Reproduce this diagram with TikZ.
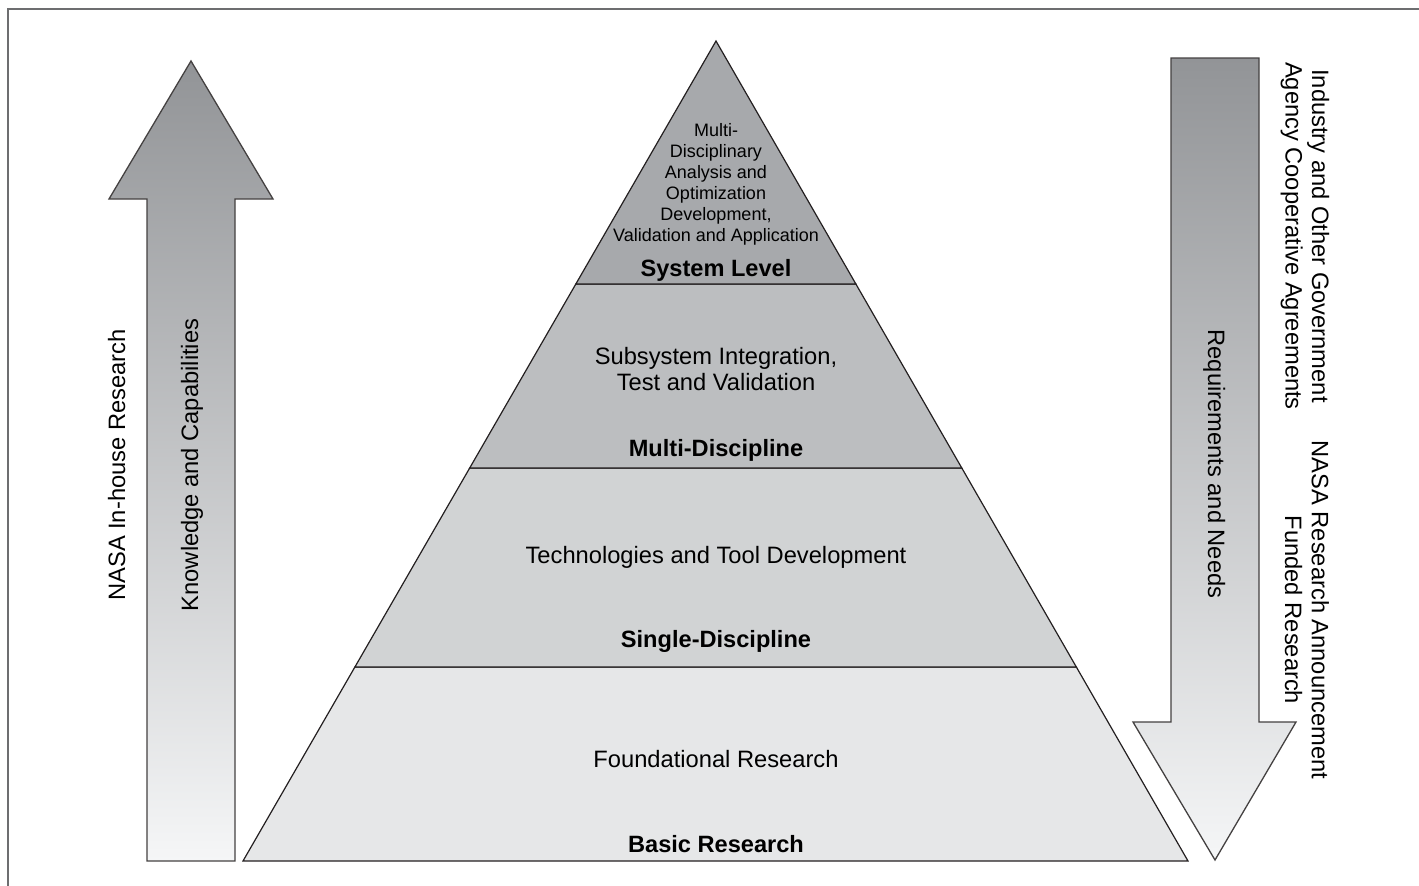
\documentclass[tikz,border=0pt]{standalone}
\usepackage{fontspec}
\setmainfont{Liberation Sans}
\usetikzlibrary{calc}
\definecolor{framegray}{HTML}{6D6E70}
\definecolor{arrdark}{HTML}{929497}
\definecolor{arrlight}{HTML}{F5F6F7}
\definecolor{tierA}{HTML}{A7A9AC}
\definecolor{tierB}{HTML}{BCBEC0}
\definecolor{tierC}{HTML}{D1D3D4}
\definecolor{tierD}{HTML}{E6E7E8}
\definecolor{edge}{HTML}{231F20}
\tikzset{
  frameline/.style={draw=framegray, line width=1.6pt},
  bigarrow/.style={draw=edge!85, line width=1.3pt, top color=arrdark, bottom color=arrlight, line join=miter},
  tier/.style={draw=edge, line width=1.2pt, line join=miter},
  body/.style={inner sep=0pt, font=\fontsize{23.7}{26.7}\selectfont, align=center},
  small/.style={inner sep=0pt, font=\fontsize{18}{21}\selectfont, align=center},
  lab/.style={inner sep=0pt, font=\fontsize{23.6}{26.7}\selectfont\bfseries, anchor=base},
}
\begin{document}
\begin{tikzpicture}[x=1pt,y=-1pt]
\useasboundingbox (0,0) rectangle (1419,886);
\draw[frameline] (1420,9) -- (8,9) -- (8,887);

% left arrow (up)
\draw[bigarrow] (191,61) -- (273,199) -- (235,199) -- (235,861) -- (147,861) -- (147,199) -- (109,199) -- cycle;
% right arrow (down)
\draw[bigarrow] (1171,58) -- (1259,58) -- (1259,722) -- (1296,722) -- (1215,860) -- (1133,722) -- (1171,722) -- cycle;

% pyramid
\coordinate (A) at (716,41);
\coordinate (BL) at (243,861);
\coordinate (BR) at (1188,861);
\coordinate (L1) at ($(A)!0.2963!(BL)$);
\coordinate (R1) at ($(A)!0.2963!(BR)$);
\coordinate (L2) at ($(A)!0.5207!(BL)$);
\coordinate (R2) at ($(A)!0.5207!(BR)$);
\coordinate (L3) at ($(A)!0.7634!(BL)$);
\coordinate (R3) at ($(A)!0.7634!(BR)$);
\filldraw[tier, fill=tierD] (L3) -- (R3) -- (BR) -- (BL) -- cycle;
\filldraw[tier, fill=tierC] (L2) -- (R2) -- (R3) -- (L3) -- cycle;
\filldraw[tier, fill=tierB] (L1) -- (R1) -- (R2) -- (L2) -- cycle;
\filldraw[tier, fill=tierA] (A) -- (R1) -- (L1) -- cycle;

% pyramid texts
\node[small] (systxt) at (716,184) {Multi-\\Disciplinary\\Analysis and\\Optimization\\Development,\\Validation and Application};
\node[lab] (syslab) at (716,276) {System Level};
\node[body] (mtxt) at (716,369) {Subsystem Integration,\\Test and Validation};
\node[lab] (mlab) at (716,456) {Multi-Discipline};
\node[body, anchor=base] (stxt) at (716,563) {Technologies and Tool Development};
\node[lab] (slab) at (716,647) {Single-Discipline};
\node[body, anchor=base] (btxt) at (716,767) {Foundational Research};
\node[lab] (blab) at (716,852) {Basic Research};

% side texts
\node[body, anchor=base, rotate=90] (inhouse) at (125,465) {NASA In-house Research};
\node[body, anchor=base, rotate=90] (know) at (198,465) {Knowledge and Capabilities};
\node[body, anchor=base, rotate=-90] (req) at (1208,464) {Requirements and Needs};
\node[body, rotate=-90] (industry) at (1305,236) {Industry and Other Government\\Agency Cooperative Agreements};
\node[body, rotate=-90] (nra) at (1307,610) {NASA Research Announcement\\Funded Research};
\end{tikzpicture}
\end{document}
